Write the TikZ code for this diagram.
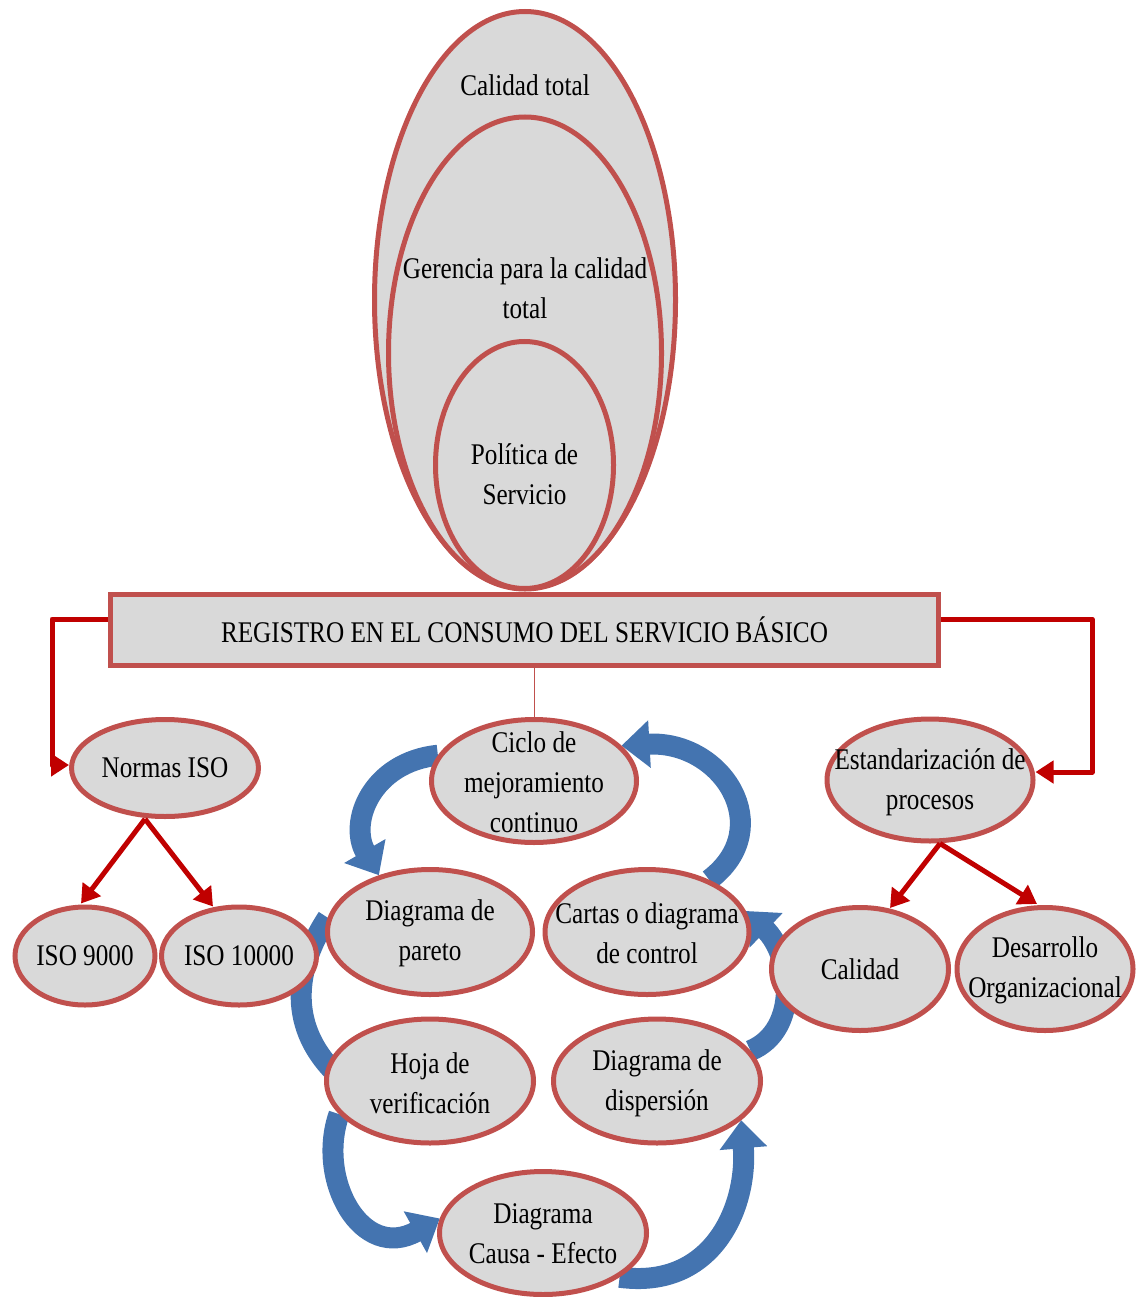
\documentclass[tikz,border=0pt]{standalone}
\usepackage{fontspec}
\setmainfont{Liberation Serif}[FakeStretch=0.84]
\usetikzlibrary{shapes.geometric,arrows.meta,calc}
\pgfdeclarelayer{bg}
\pgfsetlayers{bg,main}
\definecolor{bubfill}{RGB}{217,217,217}
\definecolor{bubline}{RGB}{192,80,77}
\definecolor{arrred}{RGB}{192,0,0}
\definecolor{cycblue}{RGB}{68,116,176}
\begin{document}
\begin{tikzpicture}[x=1pt,y=-1pt,
  bub/.style={ellipse,draw=bubline,fill=bubfill,line width=5pt,inner sep=0pt},
  txt/.style={align=center,font=\fontsize{30}{40}\selectfont,inner sep=0pt},
  redarr/.style={draw=arrred,line width=5pt,line join=round,-{Triangle[width=22pt,length=18pt]}},
  cyc/.style={draw=cycblue,line width=21pt,-{Triangle[width=46pt,length=28pt]}},
]
\useasboundingbox (0,0) rectangle (1139,1297);

% nested ellipses
\node[bub,minimum width=301,minimum height=577] (ct) at (525,300) {};
\node[bub,minimum width=273,minimum height=472] (gct) at (525,353) {};
\node[bub,minimum width=178,minimum height=247] (pol) at (524.5,465) {};
\node[txt] (ctt) at (525,85) {Calidad total};
\node[txt] (gctt) at (525,288) {Gerencia para la calidad\\total};
\node[txt] (polt) at (524.5,474) {Política de\\Servicio};

% main box
\node[draw=bubline,fill=bubfill,line width=5pt,minimum width=828,minimum height=71,inner sep=0pt,
      align=center,font=\fontsize{30}{40}\selectfont] (reg) at (524.5,630)
      {REGISTRO EN EL CONSUMO DEL SERVICIO BÁSICO};

% left branch
\node[bub,minimum width=187,minimum height=97] (normas) at (165,768) {};
\node[txt] (normast) at (165,768) {Normas ISO};
\node[bub,minimum width=140,minimum height=98] (iso9) at (85,956) {};
\node[txt] (iso9t) at (85,956) {ISO 9000};
\node[bub,minimum width=155,minimum height=98] (iso10) at (239,956) {};
\node[txt] (iso10t) at (239,956) {ISO 10000};

% right branch
\node[bub,minimum width=206,minimum height=122] (estand) at (930,780) {};
\node[txt] (estandt) at (930,782) {Estandarización de\\procesos};
\node[bub,minimum width=177,minimum height=123] (calidad) at (860,969) {};
\node[txt] (calidadt) at (860,969) {Calidad};
\node[bub,minimum width=176,minimum height=123] (desarr) at (1045,969) {};
\node[txt] (desarrt) at (1045,970) {Desarrollo\\Organizacional};

% cycle
\node[bub,minimum width=205,minimum height=123] (ciclo) at (534,781) {};
\node[txt] (ciclot) at (534,782) {Ciclo de\\mejoramiento\\continuo};
\node[bub,minimum width=205,minimum height=125] (pareto) at (430,932) {};
\node[txt] (paretot) at (430,933) {Diagrama de\\pareto};
\node[bub,minimum width=204,minimum height=125] (cartas) at (647,932) {};
\node[txt] (cartast) at (647,933) {Cartas o diagrama\\de control};
\node[bub,minimum width=207,minimum height=124] (hoja) at (430,1081) {};
\node[txt] (hojat) at (430,1083) {Hoja de\\verificación};
\node[bub,minimum width=207,minimum height=124] (disp) at (657,1081) {};
\node[txt] (dispt) at (657,1083) {Diagrama de\\dispersión};
\node[bub,minimum width=207,minimum height=123] (causa) at (543,1233) {};
\node[txt] (causat) at (543,1234) {Diagrama\\Causa - Efecto};

% cycle arrows behind
\begin{pgfonlayer}{bg}
\draw[cyc] (ciclo.165) .. controls (372,762) and (348,822) .. (pareto.132);
\draw[cyc] (cartas.40) .. controls (778,828) and (722,740) .. (ciclo.22);
\draw[cyc,-] (pareto.172) .. controls (290,975) and (290,1035) .. ([xshift=20pt]hoja.west);
\draw[cyc] (hoja.200) .. controls (316,1180) and (362,1262) .. (causa.172);
\draw[cyc] (causa.-30) .. controls (714,1290) and (748,1205) .. (disp.-25);
\draw[cyc] (disp.18) .. controls (800,1030) and (792,955) .. (cartas.12);
\end{pgfonlayer}

% connectors
\draw[bubline,line width=1pt] (ciclo.north) -- (ciclo.north |- reg.south);
\draw[redarr] ([yshift=11pt]reg.west) -- ++(-56,0) |- ([yshift=3pt]normas.west);
\draw[redarr] ([yshift=11pt]reg.east) -- ++(151,0) |- ([yshift=8pt]estand.east);
\draw[redarr] ([xshift=-20pt]normas.south) -- ([xshift=-4pt,yshift=1pt]iso9.north);
\draw[redarr] ([xshift=-20pt]normas.south) -- ([xshift=-26pt,yshift=-2pt]iso10.north);
\draw[redarr] ([xshift=10pt]estand.south) -- ([xshift=30pt,yshift=-3pt]calidad.north);
\draw[redarr] ([xshift=10pt]estand.south) -- ([xshift=-8pt,yshift=1pt]desarr.north);
\end{tikzpicture}
\end{document}
